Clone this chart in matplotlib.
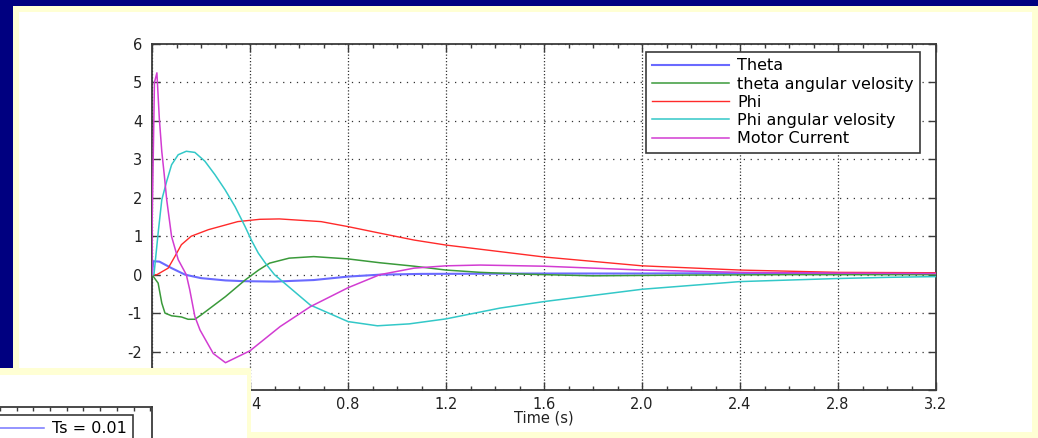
import matplotlib
matplotlib.use("Agg")
import matplotlib.pyplot as plt
from matplotlib.patches import Rectangle
from matplotlib.ticker import MultipleLocator, FixedLocator
from matplotlib.lines import Line2D

# ---------------- data ----------------
theta_t = [0, 0.005, 0.03, 0.08, 0.135, 0.2, 0.3, 0.38, 0.5, 0.66, 0.8, 0.93, 1.1, 1.6, 2.0, 2.4, 2.8, 3.2]
theta_v = [0, 0.35, 0.34, 0.17, 0.0, -0.09, -0.15, -0.17, -0.18, -0.14, -0.05, 0.0, 0.02, 0.03, 0.03, 0.04, 0.04, 0.04]

theta_dot_t = [0, 0.025, 0.04, 0.053, 0.08, 0.12, 0.147, 0.175, 0.2, 0.3, 0.38, 0.435, 0.48, 0.56, 0.66,
               0.8, 0.93, 1.07, 1.2, 1.34, 1.54, 1.8, 2.2, 2.6, 3.2]
theta_dot_v = [0, -0.22, -0.74, -1.0, -1.07, -1.1, -1.16, -1.16, -1.05, -0.57, -0.14, 0.12, 0.3, 0.43, 0.47,
               0.41, 0.31, 0.22, 0.12, 0.06, 0.01, -0.03, -0.01, 0.0, 0.0]

phi_t = [0, 0.02, 0.066, 0.093, 0.12, 0.16, 0.23, 0.35, 0.44, 0.52, 0.69, 0.8, 0.93, 1.07, 1.2, 1.6, 2.0, 2.4, 2.8, 3.2]
phi_v = [0, 0.0, 0.17, 0.47, 0.78, 1.0, 1.17, 1.38, 1.44, 1.45, 1.38, 1.25, 1.08, 0.9, 0.77, 0.46, 0.23, 0.12, 0.06, 0.05]

phi_dot_t = [0, 0.008, 0.025, 0.04, 0.06, 0.08, 0.107, 0.14, 0.175, 0.216, 0.257, 0.298, 0.339, 0.38, 0.407,
             0.434, 0.465, 0.5, 0.646, 0.8, 0.92, 1.05, 1.2, 1.42, 1.6, 2.0, 2.4, 2.8, 3.0, 3.2]
phi_dot_v = [0, 0.0, 1.08, 1.95, 2.43, 2.86, 3.12, 3.21, 3.18, 2.95, 2.6, 2.21, 1.77, 1.25, 0.88,
             0.56, 0.28, 0.0, -0.79, -1.22, -1.33, -1.28, -1.15, -0.87, -0.70, -0.38, -0.18, -0.10, -0.07, -0.05]

motor_t = [0, 0.001, 0.01, 0.02, 0.03, 0.04, 0.05, 0.06, 0.08, 0.107, 0.14, 0.154, 0.175, 0.196, 0.25, 0.30,
           0.40, 0.523, 0.647, 0.8, 0.93, 1.07, 1.2, 1.34, 1.6, 2.0, 2.4, 2.8, 3.2]
motor_v = [0, 1.5, 5.0, 5.25, 4.05, 3.2, 2.6, 1.95, 0.99, 0.39, 0.0, -0.39, -1.09, -1.44, -2.05, -2.29,
           -1.98, -1.35, -0.83, -0.34, 0.0, 0.17, 0.23, 0.25, 0.22, 0.12, 0.06, 0.04, 0.03]

series_labels = ["Theta", "theta angular velosity", "Phi", "Phi angular velosity", "Motor Current"]
x_ticks = [0, 0.4, 0.8, 1.2, 1.6, 2.0, 2.4, 2.8, 3.2]
x_tick_labels = ["0", "0.4", "0.8", "1.2", "1.6", "2.0", "2.4", "2.8", "3.2"]
y_ticks = [-3, -2, -1, 0, 1, 2, 3, 4, 5, 6]
inset_label = "Ts = 0.01"

# ---------------- style ----------------
W, H = 1038, 438
NAVY = "#000080"
YELLOW = "#FFFFD4"
COLORS = ["#6a6aff", "#3a9a3a", "#ff2a2a", "#33c8c8", "#d23cd2"]
SPINE = "#3a3a3a"
FS = 10.5
LFS = 11.5
plt.rcParams["font.family"] = ["DejaVu Sans"]
plt.rcParams["axes.unicode_minus"] = False


def fx(px):
    return px / W


def fy(py_top):
    return 1 - py_top / H


fig = plt.figure(figsize=(W / 100, H / 100), dpi=100)
fig.patch.set_facecolor(NAVY)

# slide frame
fig.add_artist(Rectangle((fx(13), 0), fx(W - 13), fy(6), transform=fig.transFigure,
                         facecolor=YELLOW, edgecolor="none", zorder=-10))
fig.add_artist(Rectangle((fx(19), fy(432)), fx(1032 - 19), fy(12) - fy(432), transform=fig.transFigure,
                         facecolor="white", edgecolor="none", zorder=-9))

# ---------------- main axes ----------------
ax = fig.add_axes([fx(152), fy(390), fx(936 - 152), fy(44) - fy(390)])
ax.set_facecolor("white")

data = [(theta_t, theta_v), (theta_dot_t, theta_dot_v), (phi_t, phi_v),
        (phi_dot_t, phi_dot_v), (motor_t, motor_v)]
widths = [1.5, 1.1, 1.0, 1.1, 1.1]
for (t, v), c, lab, lw in zip(data, COLORS, series_labels, widths):
    ax.plot(t, v, color=c, lw=lw, label=lab, zorder=3)

ax.set_xlim(0, 3.2)
ax.set_ylim(-3, 6)
ax.xaxis.set_major_locator(FixedLocator(x_ticks))
ax.set_xticklabels(x_tick_labels)
ax.xaxis.set_minor_locator(MultipleLocator(0.1))
ax.yaxis.set_major_locator(FixedLocator(y_ticks))
ax.tick_params(which="both", direction="in", top=True, right=True, colors="black",
               labelsize=FS, labelcolor="#222222")
ax.tick_params(which="major", length=6, width=1.0, color=SPINE)
ax.tick_params(which="minor", length=3, width=1.0, color=SPINE)
ax.tick_params(axis="x", pad=5)
ax.tick_params(axis="y", pad=7)
for s in ax.spines.values():
    s.set_color(SPINE)
    s.set_linewidth(1.3)
ax.xaxis.grid(True, which="major", color="#333333", linestyle=(0, (1, 1.6)), linewidth=0.9)
ax.yaxis.grid(True, which="major", color="#333333", linestyle=(0, (1, 4.5)), linewidth=0.9)
ax.set_axisbelow(True)
ax.set_xlabel("Time (s)", fontsize=FS, color="#222222", labelpad=-1)

leg = ax.legend(loc="upper right", bbox_to_anchor=(fx(920), fy(52)), bbox_transform=fig.transFigure,
                borderaxespad=0, fontsize=LFS, handlelength=4.8, handletextpad=0.5,
                labelspacing=0.2, borderpad=0.4, fancybox=False, framealpha=1)
leg.get_frame().set_edgecolor(SPINE)
leg.get_frame().set_linewidth(1.2)

# ---------------- overlapping second figure panel (bottom-left) ----------------
fig.add_artist(Rectangle((0, 0), fx(251), fy(368), transform=fig.transFigure,
                         facecolor=YELLOW, edgecolor="none", zorder=5))
fig.add_artist(Rectangle((0, 0), fx(247), fy(375), transform=fig.transFigure,
                         facecolor="white", edgecolor="none", zorder=6))

ax2 = fig.add_axes([fx(-60), fy(460), fx(152 + 60), fy(407) - fy(460)], zorder=7)
ax2.set_facecolor("white")
ax2.set_xlim(-60, 152)
ax2.set_ylim(0, 1)
ax2.xaxis.set_major_locator(MultipleLocator(16.7))
ax2.set_yticks([])
ax2.tick_params(axis="x", which="both", direction="in", top=True, bottom=False,
                labeltop=False, labelbottom=False, length=3, width=1.0, color=SPINE)
for s in ax2.spines.values():
    s.set_color(SPINE)
    s.set_linewidth(1.3)
ax2.spines["left"].set_visible(False)
ax2.spines["bottom"].set_visible(False)
h2 = [Line2D([0], [0], color="#7777ff", lw=1.1)]
leg2 = ax2.legend(h2, [inset_label], loc="upper right", bbox_to_anchor=(fx(133), fy(415)),
                  bbox_transform=fig.transFigure, borderaxespad=0, fontsize=LFS, handlelength=4.8,
                  handletextpad=0.5, borderpad=0.4, fancybox=False, framealpha=1)
leg2.get_frame().set_edgecolor(SPINE)
leg2.get_frame().set_linewidth(1.2)

fig.savefig("out.png", dpi=100, facecolor=fig.get_facecolor())
